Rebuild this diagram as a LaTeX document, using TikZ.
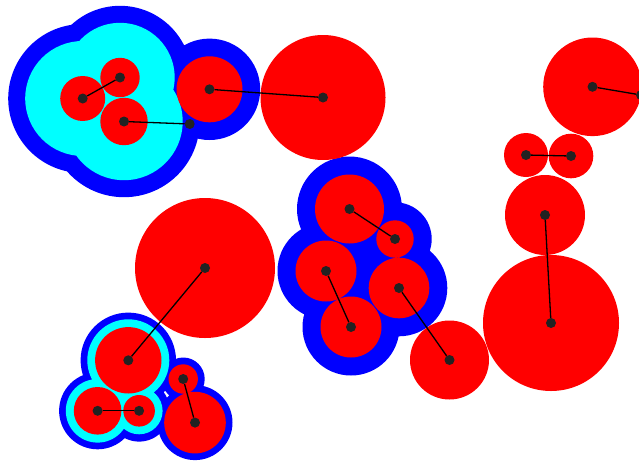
\documentclass[tikz,border=0pt]{standalone}
\definecolor{rd}{HTML}{FF0000}
\definecolor{bl}{HTML}{0000FF}
\definecolor{cy}{HTML}{00FFFF}
\definecolor{dk}{HTML}{222222}
\begin{document}
\begin{tikzpicture}[x=1pt,y=-1pt,
  dot/.style={circle,fill=dk,inner sep=0pt,minimum size=10pt},
  link/.style={draw=black,line width=1.3pt}]
\useasboundingbox (0,0) rectangle (639,461);
% centres
\coordinate (a1) at (82.7,98.5);
\coordinate (a2) at (120,77.5);
\coordinate (a3) at (124,121.5);
\coordinate (a4) at (189.7,124);
\coordinate (b1) at (209.5,89.3);
\coordinate (c1) at (323,97.5);
\coordinate (m1) at (349.5,209);
\coordinate (m2) at (395,239);
\coordinate (m3) at (326,271);
\coordinate (m4) at (399,288);
\coordinate (m5) at (351,327);
\coordinate (f) at (449.5,360);
\coordinate (L) at (205,268);
\coordinate (G) at (128.3,360.3);
\coordinate (H) at (97.6,410.8);
\coordinate (I) at (139.1,410.8);
\coordinate (J) at (183.2,379);
\coordinate (K) at (195,422.6);
\coordinate (M) at (592.5,86.8);
\coordinate (Mx) at (641,95);
\coordinate (N) at (526,155);
\coordinate (O) at (571,156);
\coordinate (P) at (545,215);
\coordinate (Q) at (551,323);
% blue halos
\fill[bl] (a1) circle (74.5) (a2) circle (71.7) (a3) circle (75.7) (b1) circle (50.7);
\fill[bl] (m1) circle (52.5) (m2) circle (36.7) (m3) circle (48.5) (m4) circle (48.3) (m5) circle (48.5);
\fill[bl] (G) circle (47.7) (H) circle (38.5) (I) circle (30.8);
\fill[bl] (J) circle (21.5) (K) circle (37.5);
% cyan halos
\fill[cy] (a1) circle (57.5) (a2) circle (54.7) (a3) circle (58.7);
\fill[cy] (G) circle (41) (H) circle (31.8) (I) circle (23.5);
% red discs
\fill[rd] (a1) circle (22.5) (a2) circle (19.7) (a3) circle (23.7) (b1) circle (33) (c1) circle (62.5);
\fill[rd] (m1) circle (34.5) (m2) circle (18.7) (m3) circle (30.5) (m4) circle (30.3) (m5) circle (30.5) (f) circle (39.5);
\fill[rd] (L) circle (70) (G) circle (33.2) (H) circle (23.8) (I) circle (15.8) (J) circle (14.7) (K) circle (30.8);
\fill[rd] (M) circle (49.3) (N) circle (22) (O) circle (22.3) (P) circle (40) (Q) circle (68);
% dots
\foreach \n in {a1,a2,a3,a4,b1,c1,m1,m2,m3,m4,m5,f,L,G,H,I,J,K,M,Mx,N,O,P,Q}
  \node[dot] (d\n) at (\n) {};
% links
\draw[link] (da1) -- (da2);
\draw[link] (da3) -- (da4);
\draw[link] (db1) -- (dc1);
\draw[link] (dm1) -- (dm2);
\draw[link] (dm3) -- (dm5);
\draw[link] (dm4) -- (df);
\draw[link] (dG) -- (dL);
\draw[link] (dH) -- (dI);
\draw[link] (dJ) -- (dK);
\draw[link] (dM) -- (dMx);
\draw[link] (dN) -- (dO);
\draw[link] (dP) -- (dQ);
\end{tikzpicture}
\end{document}
